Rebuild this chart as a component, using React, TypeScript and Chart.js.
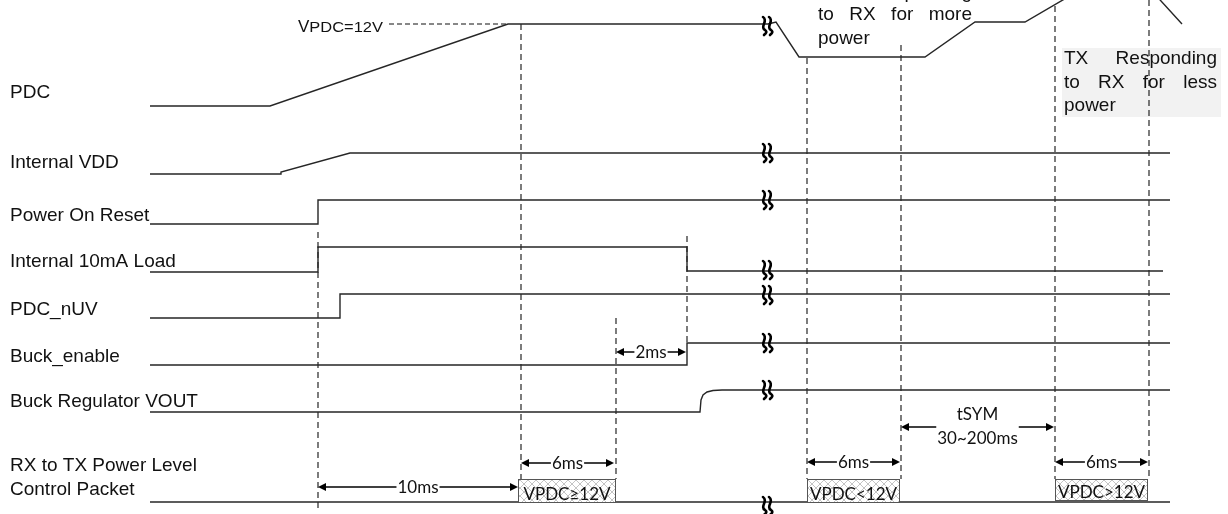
import React, { useEffect, useRef } from 'react';
import { Chart, registerables } from 'chart.js';

Chart.register(...registerables);

// ---- axis extents (time units across, level units down) ----
const TIME_MAX = 1228;
const LEVEL_MAX = 514;

// ---- signal names and label rows ----
const signalLabels = [
  'PDC',
  'Internal VDD',
  'Power On Reset',
  'Internal 10mA Load',
  'PDC_nUV',
  'Buck_enable',
  'Buck Regulator VOUT',
  'RX to TX Power Level',
  'Control Packet',
];
const labelLevels = [98, 168, 221, 267, 315, 362, 407, 471, 495];

// ---- waveforms: time points and levels ----
const pdcTime = [150, 270, 508, 768, 776, 799, 925, 975, 1025, 1080, 1151, 1182];
const pdcLevel = [106, 106, 24, 24, 22, 57, 57, 22, 22, -10, -10, 24];
const vddTime = [150, 281, 281, 350, 1170];
const vddLevel = [174, 174, 172, 153, 153];
const porTime = [150, 318, 318, 1170];
const porLevel = [224, 224, 200, 200];
const loadTime = [150, 318, 318, 687, 687, 1163];
const loadLevel = [272, 272, 247, 247, 271, 271];
const nuvTime = [150, 340, 340, 1170];
const nuvLevel = [318, 318, 294, 294];
const enableTime = [150, 687, 687, 1170];
const enableLevel = [365, 365, 343, 343];
const voutTime = [150, 700, 701, 703, 707, 713, 722, 1170];
const voutLevel = [412, 412, 400, 395, 392, 390.5, 390, 390];
const packetLineTime = [150, 1170];
const packetLineLevel = [502, 502];

// ---- dashed timing markers ----
const markerTime = [318, 521, 616, 687, 807, 901, 1055, 1149];
const markerTop = [232, 24, 318, 236, 58, 45, 6, 0];
const markerBottom = [510, 479, 479, 345, 479, 479, 479, 479];
const refTime = [389, 508];
const refLevel = [24, 24];

// ---- interval annotations ----
const spanStart = [318, 521, 616, 807, 1055, 901];
const spanEnd = [518, 614, 686, 900, 1148, 1054];
const spanLevel = [487, 463, 352, 462, 462, 427];
const spanText = [['10ms'], ['6ms'], ['2ms'], ['6ms'], ['6ms'], ['tSYM', '30~200ms']];

// ---- control packets ----
const packetStart = [518, 807, 1055];
const packetEnd = [616, 900, 1148];
const packetTop = [479, 479, 479];
const packetBottom = [503, 503, 501];
const packetText = ['VPDC\u226512V', 'VPDC<12V', 'VPDC>12V'];

// ---- break marks ----
const breakTime = 767;
const breakLevels = [26, 153, 200, 270, 295, 343, 390, 506];

// ---- notes ----
const noteMoreLines = ['TX Responding', 'to RX for more', 'power'];
const noteMoreLevels = [-2, 20, 44];
const noteMoreSpan = [818, 972];
const noteLessLines = ['TX Responding', 'to RX for less', 'power'];
const noteLessLevels = [64, 88, 111];
const noteLessSpan = [1064, 1217];
const noteLessBox = [1062, 48, 1221, 117];

const LABEL_FONT = '19px "Liberation Sans", Arial, sans-serif';
const SMALL_FONT = '17px Lato, "Open Sans", sans-serif';
const LINE_COLOR = '#262626';

function toPoints(t: number[], v: number[]) {
  return t.map((x, i) => ({ x, y: v[i] }));
}

function justify(ctx: CanvasRenderingContext2D, text: string, x1: number, x2: number, y: number, last: boolean) {
  const words = text.split(' ');
  if (last || words.length < 2) {
    ctx.fillText(text, x1, y);
    return;
  }
  const widths = words.map((w) => ctx.measureText(w).width);
  const total = widths.reduce((a, b) => a + b, 0);
  const gap = (x2 - x1 - total) / (words.length - 1);
  let x = x1;
  words.forEach((w, i) => {
    ctx.fillText(w, x, y);
    x += widths[i] + gap;
  });
}

function drawBreak(ctx: CanvasRenderingContext2D, cx: number, cy: number) {
  ctx.save();
  ctx.strokeStyle = '#000';
  ctx.lineWidth = 2.6;
  ctx.lineCap = 'round';
  for (const dx of [-3, 3]) {
    const x = cx + dx;
    ctx.beginPath();
    ctx.moveTo(x - 1, cy - 9);
    ctx.bezierCurveTo(x + 5, cy - 5, x - 5, cy + 1, x + 1, cy + 4);
    ctx.bezierCurveTo(x + 4, cy + 6, x + 1, cy + 8, x + 0, cy + 9);
    ctx.stroke();
  }
  ctx.restore();
}

function hatchPattern(ctx: CanvasRenderingContext2D) {
  const c = document.createElement('canvas');
  c.width = 8;
  c.height = 8;
  const g = c.getContext('2d')!;
  g.fillStyle = '#ffffff';
  g.fillRect(0, 0, 8, 8);
  g.strokeStyle = '#c4c4c4';
  g.lineWidth = 1;
  g.beginPath();
  g.moveTo(0, 0);
  g.lineTo(8, 8);
  g.moveTo(8, 0);
  g.lineTo(0, 8);
  g.stroke();
  return ctx.createPattern(c, 'repeat');
}

function arrowHead(ctx: CanvasRenderingContext2D, x: number, y: number, dir: number) {
  ctx.beginPath();
  ctx.moveTo(x, y);
  ctx.lineTo(x - dir * 8, y - 4);
  ctx.lineTo(x - dir * 8, y + 4);
  ctx.closePath();
  ctx.fill();
}

const overlayPlugin = {
  id: 'timingOverlay',
  beforeDraw(chart: any) {
    const ctx = chart.ctx as CanvasRenderingContext2D;
    ctx.save();
    ctx.fillStyle = '#ffffff';
    ctx.fillRect(0, 0, chart.width, chart.height);
    ctx.restore();
  },
  beforeDatasetsDraw(chart: any) {
    const ctx = chart.ctx as CanvasRenderingContext2D;
    const px = (t: number) => chart.scales.x.getPixelForValue(t);
    const py = (v: number) => chart.scales.y.getPixelForValue(v);
    ctx.save();
    ctx.fillStyle = '#f2f2f2';
    ctx.fillRect(px(noteLessBox[0]), py(noteLessBox[1]), px(noteLessBox[2]) - px(noteLessBox[0]), py(noteLessBox[3]) - py(noteLessBox[1]));
    ctx.restore();
  },
  afterDatasetsDraw(chart: any) {
    const ctx = chart.ctx as CanvasRenderingContext2D;
    const px = (t: number) => chart.scales.x.getPixelForValue(t);
    const py = (v: number) => chart.scales.y.getPixelForValue(v);
    ctx.save();

    // signal labels
    ctx.fillStyle = '#111';
    ctx.font = LABEL_FONT;
    ctx.textBaseline = 'alphabetic';
    ctx.textAlign = 'left';
    signalLabels.forEach((s, i) => ctx.fillText(s, px(10), py(labelLevels[i])));

    // VPDC=12V reference text
    ctx.font = '17px "Liberation Sans", Arial, sans-serif';
    const vw = ctx.measureText('V').width;
    ctx.fillText('V', px(298), py(32));
    ctx.font = '14px "Liberation Sans", Arial, sans-serif';
    const rest = 'PDC=12V';
    const rw = ctx.measureText(rest).width;
    const target = px(383) - px(298) - vw;
    ctx.save();
    ctx.translate(px(298) + vw, py(32));
    ctx.scale(target / rw, 1);
    ctx.fillText(rest, 0, 0);
    ctx.restore();

    // notes
    ctx.font = LABEL_FONT;
    noteMoreLines.forEach((l, i) =>
      justify(ctx, l, px(noteMoreSpan[0]), px(noteMoreSpan[1]), py(noteMoreLevels[i]), i === noteMoreLines.length - 1)
    );
    noteLessLines.forEach((l, i) =>
      justify(ctx, l, px(noteLessSpan[0]), px(noteLessSpan[1]), py(noteLessLevels[i]), i === noteLessLines.length - 1)
    );

    // control packets
    const pat = hatchPattern(ctx);
    packetText.forEach((txt, i) => {
      const x1 = px(packetStart[i]);
      const x2 = px(packetEnd[i]);
      const y1 = py(packetTop[i]);
      const y2 = py(packetBottom[i]);
      ctx.fillStyle = pat || '#eee';
      ctx.fillRect(x1, y1, x2 - x1, y2 - y1);
      ctx.strokeStyle = '#555';
      ctx.lineWidth = 1;
      ctx.strokeRect(x1 + 0.5, y1 + 0.5, x2 - x1 - 1, y2 - y1 - 1);
      ctx.fillStyle = '#111';
      ctx.font = SMALL_FONT;
      ctx.textAlign = 'center';
      ctx.textBaseline = 'alphabetic';
      ctx.fillText(txt, (x1 + x2) / 2, y2 - 3);
    });

    // interval arrows
    ctx.font = SMALL_FONT;
    ctx.textAlign = 'center';
    ctx.textBaseline = 'middle';
    spanText.forEach((lines, i) => {
      const x1 = px(spanStart[i]);
      const x2 = px(spanEnd[i]);
      const y = py(spanLevel[i]);
      const cx = (x1 + x2) / 2;
      ctx.strokeStyle = '#000';
      ctx.fillStyle = '#000';
      ctx.lineWidth = 1.3;
      ctx.beginPath();
      ctx.moveTo(x1 + 2, y);
      ctx.lineTo(x2 - 2, y);
      ctx.stroke();
      arrowHead(ctx, x1, y, -1);
      arrowHead(ctx, x2, y, 1);
      const w = Math.max(...lines.map((l) => ctx.measureText(l).width));
      ctx.fillStyle = '#ffffff';
      ctx.fillRect(cx - w / 2 - 1, y - 2, w + 2, 4);
      ctx.fillStyle = '#111';
      if (lines.length === 1) {
        ctx.fillText(lines[0], cx, y + 1);
      } else {
        ctx.fillText(lines[0], cx, y - 12);
        ctx.fillText(lines[1], cx, y + 12);
      }
    });

    // break marks
    breakLevels.forEach((v) => drawBreak(ctx, px(breakTime), py(v)));

    ctx.restore();
  },
};

export default function App() {
  const ref = useRef<HTMLCanvasElement | null>(null);

  useEffect(() => {
    document.body.style.margin = '0';
    const canvas = ref.current;
    if (!canvas) return;

    const wave = (t: number[], v: number[]) => ({
      data: toPoints(t, v),
      borderColor: LINE_COLOR,
      borderWidth: 1.4,
      pointRadius: 0,
      tension: 0,
      fill: false,
    });

    const markers = markerTime.map((t, i) => ({
      data: toPoints([t, t], [markerTop[i], markerBottom[i]]),
      borderColor: '#111',
      borderWidth: 1.1,
      borderDash: [6, 4],
      pointRadius: 0,
      fill: false,
    }));

    const chart = new Chart(canvas, {
      type: 'line',
      data: {
        datasets: [
          wave(pdcTime, pdcLevel),
          wave(vddTime, vddLevel),
          wave(porTime, porLevel),
          wave(loadTime, loadLevel),
          wave(nuvTime, nuvLevel),
          wave(enableTime, enableLevel),
          wave(voutTime, voutLevel),
          wave(packetLineTime, packetLineLevel),
          ...markers,
          {
            data: toPoints(refTime, refLevel),
            borderColor: '#111',
            borderWidth: 1.1,
            borderDash: [5, 3],
            pointRadius: 0,
            fill: false,
          },
        ] as any,
      },
      options: {
        animation: false,
        responsive: false,
        maintainAspectRatio: false,
        events: [],
        layout: { padding: 0 },
        scales: {
          x: { type: 'linear', min: 0, max: TIME_MAX, display: false },
          y: { type: 'linear', min: 0, max: LEVEL_MAX, reverse: true, display: false },
        },
        plugins: {
          legend: { display: false },
          tooltip: { enabled: false },
        },
      },
      plugins: [overlayPlugin],
    });

    return () => chart.destroy();
  }, []);

  return (
    <div style={{ width: 1228, height: 514 }}>
      <canvas ref={ref} width={1228} height={514} style={{ display: 'block', width: 1228, height: 514 }} />
    </div>
  );
}
